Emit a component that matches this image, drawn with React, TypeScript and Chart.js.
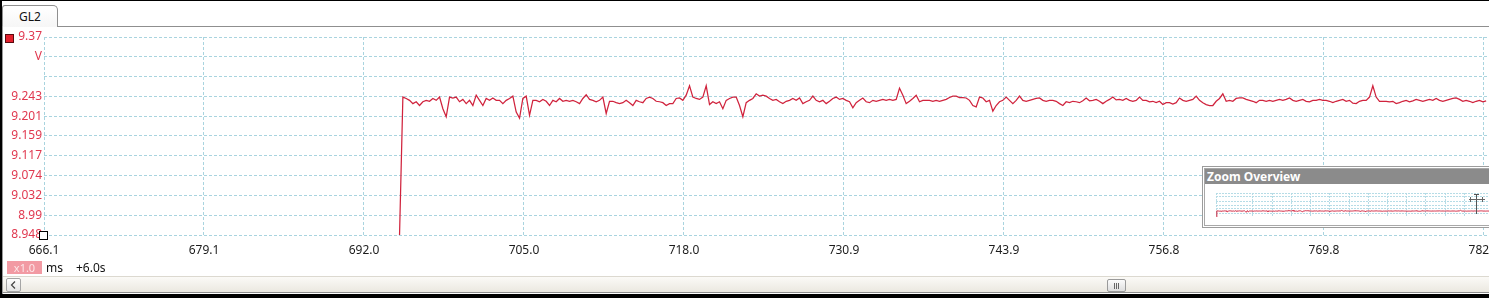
import React, { useEffect, useRef } from "react";
import { Chart, registerables } from "chart.js";

Chart.register(...registerables);

// ---- data ----
const startTime = 694.9; // ms, first sample
const sampleStep = 0.27; // ms between samples
const voltage: number[] = [
  8.948,
  9.242, 9.239, 9.235, 9.228, 9.232, 9.224, 9.232, 9.235, 9.233, 9.239,
  9.235, 9.242, 9.217, 9.200, 9.242, 9.240, 9.242, 9.232, 9.237, 9.228,
  9.235, 9.224, 9.246, 9.235, 9.224, 9.239, 9.235, 9.240, 9.235, 9.235,
  9.228, 9.235, 9.239, 9.244, 9.210, 9.197, 9.239, 9.244, 9.203, 9.235,
  9.235, 9.232, 9.237, 9.233, 9.224, 9.235, 9.232, 9.239, 9.233, 9.235,
  9.233, 9.235, 9.232, 9.228, 9.239, 9.247, 9.237, 9.235, 9.232, 9.235,
  9.242, 9.207, 9.233, 9.233, 9.230, 9.228, 9.230, 9.235, 9.230, 9.224,
  9.235, 9.232, 9.230, 9.239, 9.242, 9.239, 9.233, 9.232, 9.230, 9.224,
  9.228,
  9.228, 9.239, 9.240, 9.235, 9.246, 9.266, 9.242, 9.239, 9.237, 9.242,
  9.266, 9.226, 9.232, 9.228, 9.232, 9.217, 9.235, 9.239, 9.242, 9.242,
  9.224, 9.200, 9.230, 9.235, 9.239, 9.249, 9.244, 9.246, 9.244, 9.239,
  9.235, 9.237, 9.232, 9.228, 9.233, 9.235, 9.239, 9.235, 9.240, 9.228,
  9.232, 9.235, 9.244, 9.235, 9.232, 9.235, 9.228, 9.233, 9.239, 9.242,
  9.237, 9.239, 9.235, 9.232, 9.219, 9.230, 9.235, 9.240, 9.232, 9.230,
  9.235, 9.233, 9.235, 9.237, 9.235, 9.237, 9.235, 9.237, 9.261, 9.246,
  9.228, 9.233, 9.239, 9.246, 9.232, 9.235, 9.235, 9.235, 9.233, 9.235,
  9.233, 9.235,
  9.237, 9.241, 9.244, 9.244, 9.241, 9.241, 9.240, 9.235, 9.224, 9.221,
  9.242, 9.240, 9.232, 9.235, 9.212, 9.224, 9.232, 9.235, 9.242, 9.235,
  9.228, 9.235, 9.244, 9.235, 9.233, 9.235, 9.237, 9.239, 9.240, 9.235,
  9.233, 9.235, 9.235, 9.233, 9.228, 9.224, 9.232, 9.230, 9.233, 9.232,
  9.230, 9.234, 9.240, 9.234, 9.235, 9.237, 9.233, 9.228, 9.233, 9.237,
  9.242, 9.236, 9.237, 9.235, 9.239, 9.235, 9.233, 9.235, 9.242, 9.235,
  9.235, 9.232, 9.233, 9.230, 9.233, 9.226, 9.230, 9.230, 9.227, 9.230,
  9.240, 9.235, 9.233, 9.235, 9.237, 9.244, 9.235, 9.230, 9.226, 9.224,
  9.224, 9.233,
  9.239, 9.249, 9.233, 9.235, 9.233, 9.239, 9.240, 9.240, 9.237, 9.235,
  9.233, 9.230, 9.235, 9.235, 9.233, 9.235, 9.233, 9.235, 9.237, 9.235,
  9.237, 9.240, 9.235, 9.233, 9.235, 9.237, 9.233, 9.232, 9.235, 9.235,
  9.237, 9.235, 9.235, 9.233, 9.230, 9.233, 9.235, 9.237, 9.233, 9.235,
  9.229, 9.228, 9.233, 9.235, 9.235, 9.242, 9.266, 9.242, 9.233, 9.233,
  9.233, 9.232, 9.233, 9.228, 9.230, 9.233, 9.235, 9.232, 9.234, 9.237,
  9.235, 9.233, 9.235, 9.237, 9.235, 9.239, 9.235, 9.233, 9.235, 9.237,
  9.239, 9.240, 9.237, 9.233, 9.235, 9.233, 9.230, 9.233, 9.235, 9.232,
  9.234,
];

const xMin = 666.1;
const xMax = 783.15;
const xTickValues = [666.1, 679.06, 692.02, 704.98, 717.94, 730.9, 743.86, 756.82, 769.78, 782.74];
const xTickLabels = ["666.1", "679.1", "692.0", "705.0", "718.0", "730.9", "743.9", "756.8", "769.8", "782.7"];

const yMin = 8.948;
const yMax = 9.37;
const yTickValues = [9.37, 9.328, 9.285, 9.243, 9.201, 9.159, 9.117, 9.074, 9.032, 8.99, 8.948];
const yTickLabels = ["9.37", "V", "", "9.243", "9.201", "9.159", "9.117", "9.074", "9.032", "8.99", "8.948"];

// overview range
const overviewYMin = 8.985;
const overviewYMax = 9.985;

const FONT = '"Noto Sans", "Open Sans", sans-serif';
const GRID = "#a9d4df";
const LINE = "#d0233d";

function points() {
  return voltage.map((v, i) => ({ x: startTime + i * sampleStep, y: v }));
}

export default function App() {
  const mainRef = useRef<HTMLCanvasElement | null>(null);
  const ovRef = useRef<HTMLCanvasElement | null>(null);

  useEffect(() => {
    const main = new Chart(mainRef.current as HTMLCanvasElement, {
      type: "line",
      data: {
        datasets: [
          {
            data: points(),
            borderColor: LINE,
            borderWidth: 1.25,
            pointRadius: 0,
            tension: 0,
            fill: false,
          },
        ],
      },
      options: {
        animation: false,
        responsive: false,
        devicePixelRatio: 1,
        events: [],
        layout: { padding: { top: 37, right: 41, bottom: 0, left: 0 } },
        plugins: { legend: { display: false }, tooltip: { enabled: false } },
        scales: {
          x: {
            type: "linear",
            min: xMin,
            max: xMax,
            afterBuildTicks: (s: any) => {
              s.ticks = xTickValues.map((v) => ({ value: v }));
            },
            afterFit: (s: any) => {
              s.height = 25;
            },
            ticks: {
              callback: (_v: any, i: number) => xTickLabels[i],
              color: "#1c1c1c",
              font: { family: FONT, size: 12 },
              padding: 8,
              maxRotation: 0,
              autoSkip: false,
            },
            grid: { color: GRID, lineWidth: 1, drawTicks: false },
            border: { display: false, dash: [3, 2] },
          },
          y: {
            type: "linear",
            min: yMin,
            max: yMax,
            afterBuildTicks: (s: any) => {
              s.ticks = yTickValues.map((v) => ({ value: v }));
            },
            afterFit: (s: any) => {
              s.width = 44;
            },
            ticks: {
              callback: (_v: any, i: number) => yTickLabels[i],
              color: "#e0384f",
              font: { family: FONT, size: 12 },
              padding: 2,
              autoSkip: false,
            },
            grid: { color: GRID, lineWidth: 1, drawTicks: false },
            border: { display: false, dash: [3, 2] },
          },
        },
      },
    });

    const ov = new Chart(ovRef.current as HTMLCanvasElement, {
      type: "line",
      data: {
        datasets: [
          {
            data: points(),
            borderColor: LINE,
            borderWidth: 1,
            pointRadius: 0,
            tension: 0,
            fill: false,
          },
        ],
      },
      options: {
        animation: false,
        responsive: false,
        devicePixelRatio: 1,
        events: [],
        layout: { padding: 0 },
        plugins: { legend: { display: false }, tooltip: { enabled: false } },
        scales: {
          x: {
            type: "linear",
            min: startTime,
            max: startTime + (voltage.length - 1) * sampleStep,
            ticks: { display: false, stepSize: 6.2 },
            afterFit: (s: any) => {
              s.height = 0;
            },
            grid: { color: "#b6dce6", lineWidth: 1, drawTicks: false },
            border: { display: false, dash: [2, 1] },
          },
          y: {
            type: "linear",
            min: overviewYMin,
            max: overviewYMax,
            ticks: { display: false, stepSize: 1 / 6 },
            afterFit: (s: any) => {
              s.width = 0;
            },
            grid: { color: "#b6dce6", lineWidth: 1, drawTicks: false },
            border: { display: false, dash: [2, 1] },
          },
        },
      },
    });

    return () => {
      main.destroy();
      ov.destroy();
    };
  }, []);

  const abs = (s: React.CSSProperties): React.CSSProperties => ({ position: "absolute", ...s });

  return (
    <div
      style={{
        position: "absolute",
        left: 0,
        top: 0,
        width: 1489,
        height: 298,
        overflow: "hidden",
        background: "#ffffff",
        fontFamily: FONT,
        fontSize: 12,
        color: "#111",
      }}
    >
      {/* tab strip */}
      <div style={abs({ left: 58, top: 26, width: 1440, height: 1, background: "#8f8f8f" })} />
      <div
        style={abs({
          left: 2,
          top: 5,
          width: 56,
          height: 22,
          boxSizing: "border-box",
          border: "1px solid #8f8f8f",
          borderBottom: "none",
          borderTopLeftRadius: 3,
          borderTopRightRadius: 5,
          background: "linear-gradient(#ffffff, #f6f6f6)",
          textAlign: "center",
          lineHeight: "22px",
          fontSize: 12,
          color: "#111",
        })}
      >
        GL2
      </div>
      <div style={abs({ left: 2, top: 26, width: 1, height: 268, background: "#9a9a9a" })} />

      {/* main chart */}
      <canvas ref={mainRef} width={1530} height={260} style={abs({ left: 0, top: 0, width: 1530, height: 260 })} />

      {/* channel markers */}
      <div
        style={abs({
          left: 5,
          top: 34,
          width: 9,
          height: 9,
          boxSizing: "border-box",
          border: "1px solid #5a0a10",
          background: "#e3202d",
        })}
      />
      <div
        style={abs({
          left: 39,
          top: 231,
          width: 9,
          height: 9,
          boxSizing: "border-box",
          border: "1px solid #000",
          background: "#fff",
        })}
      />

      {/* zoom overview */}
      <div
        style={abs({
          left: 1202,
          top: 166,
          width: 320,
          height: 62,
          boxSizing: "border-box",
          border: "1px solid #9c9c9c",
          background: "#fff",
          zIndex: 2,
        })}
      />
      <div
        style={abs({
          left: 1204,
          top: 168,
          width: 320,
          height: 58,
          boxSizing: "border-box",
          border: "1px solid #a8a8a8",
          background: "#fff",
          zIndex: 2,
        })}
      >
        <div
          style={{
            height: 15,
            background: "#8b8b8b",
            color: "#fff",
            fontWeight: "bold",
            fontSize: 12,
            lineHeight: "15px",
            paddingLeft: 2,
          }}
        >
          Zoom Overview
        </div>
      </div>
      <canvas ref={ovRef} width={273} height={24} style={abs({ left: 1216, top: 193, width: 273, height: 24, zIndex: 3 })} />
      {/* overview position marker */}
      <div style={abs({ left: 1476, top: 194, width: 1, height: 20, background: "#555", zIndex: 4 })} />
      <div style={abs({ left: 1474, top: 194, width: 5, height: 1, background: "#555", zIndex: 4 })} />
      <div style={abs({ left: 1469, top: 199, width: 16, height: 1, background: "#666", zIndex: 4 })} />
      <div style={abs({ left: 1470, top: 197, width: 1, height: 5, background: "#666", zIndex: 4 })} />
      <div style={abs({ left: 1482, top: 197, width: 1, height: 5, background: "#666", zIndex: 4 })} />

      {/* bottom info row */}
      <div
        style={abs({
          left: 7,
          top: 261,
          width: 35,
          height: 13,
          background: "#f29aa3",
          color: "#fde6e8",
          fontSize: 11,
          lineHeight: "13px",
          textAlign: "center",
        })}
      >
        x1.0
      </div>
      <div style={abs({ left: 46, top: 260, lineHeight: "16px", color: "#111" })}>ms</div>
      <div style={abs({ left: 76, top: 260, lineHeight: "16px", color: "#111" })}>+6.0s</div>

      {/* scrollbar */}
      <div
        style={abs({
          left: 3,
          top: 276,
          width: 1500,
          height: 17,
          boxSizing: "border-box",
          borderTop: "1px solid #dcd9d0",
          borderBottom: "1px solid #8e8e8e",
          background: "linear-gradient(#fbfaf7, #ebe8e0)",
        })}
      />
      <div
        style={abs({
          left: 6,
          top: 278,
          width: 15,
          height: 14,
          boxSizing: "border-box",
          border: "1px solid #a5a5a5",
          borderRadius: 2,
          background: "linear-gradient(#fdfdfd, #e4e4e4)",
        })}
      >
        <svg width={13} height={12} style={{ position: "absolute", left: 0, top: 0 }}>
          <polyline points="8,2.5 4.5,6 8,9.5" fill="none" stroke="#444" strokeWidth={1.2} />
        </svg>
      </div>
      <div
        style={abs({
          left: 1107,
          top: 279,
          width: 19,
          height: 13,
          boxSizing: "border-box",
          border: "1px solid #9a9a9a",
          borderRadius: 2,
          background: "linear-gradient(#fbfbfb, #dedede)",
        })}
      >
        <div style={abs({ left: 6, top: 3, width: 1, height: 6, background: "#666" })} />
        <div style={abs({ left: 8, top: 3, width: 1, height: 6, background: "#666" })} />
        <div style={abs({ left: 10, top: 3, width: 1, height: 6, background: "#666" })} />
      </div>

      {/* outer black frame */}
      <div style={abs({ left: 0, top: 0, width: 1489, height: 1, background: "#000" })} />
      <div style={abs({ left: 0, top: 0, width: 2, height: 298, background: "#000" })} />
      <div style={abs({ left: 0, top: 294, width: 1489, height: 4, background: "#000" })} />
    </div>
  );
}
